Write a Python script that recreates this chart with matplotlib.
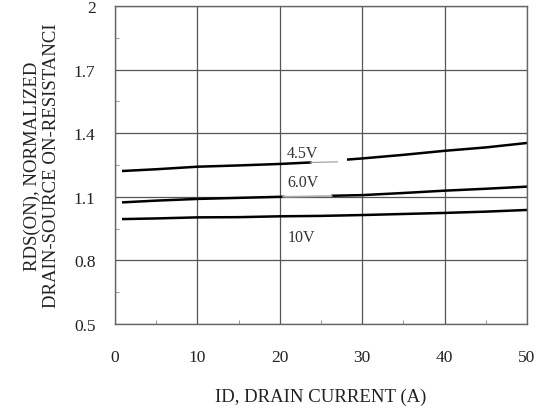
import numpy as np
import matplotlib.pyplot as plt

plt.rcParams['font.family'] = ['Liberation Serif', 'DejaVu Serif']

# Curves (ID in A, normalized RDS(ON))
x_left = [1, 5, 10, 15, 20, 23.7]
x_right = [28.3, 30, 35, 40, 45, 50]

y45_left = [1.222, 1.230, 1.242, 1.248, 1.255, 1.262]
y45_right = [1.276, 1.281, 1.298, 1.317, 1.333, 1.354]
x45_thin = [23.7, 27.0]
y45_thin = [1.262, 1.265]

x60_left = [1, 5, 10, 15, 20, 20.4]
y60_left = [1.074, 1.082, 1.090, 1.095, 1.100, 1.100]
x60_right = [26.4, 30, 35, 40, 45, 50]
y60_right = [1.105, 1.108, 1.118, 1.129, 1.138, 1.148]
x60_thin = [20.4, 26.3]
y60_thin = [1.100, 1.104]

x10 = [1, 5, 10, 15, 20, 25, 30, 35, 40, 45, 50]
y10 = [0.995, 0.998, 1.003, 1.004, 1.008, 1.010, 1.014, 1.019, 1.024, 1.030, 1.038]

labels = ['4.5V', '6.0V', '10V']
label_y = [1.307, 1.172, 0.91]
label_x = 20.9

xticks = [0, 10, 20, 30, 40, 50]
yticks = [0.5, 0.8, 1.1, 1.4, 1.7, 2]

fig = plt.figure(figsize=(5.4, 4.14), dpi=100)
ax = fig.add_axes([0.213, 0.215, 0.763, 0.768])

ax.plot(x_left, y45_left, color='black', lw=1.8)
ax.plot(x_right, y45_right, color='black', lw=1.8)
ax.plot(x45_thin, y45_thin, color='#999999', lw=0.8)
ax.plot(x60_left, y60_left, color='black', lw=1.8)
ax.plot(x60_right, y60_right, color='black', lw=1.8)
ax.plot(x60_thin, y60_thin, color='#aaaaaa', lw=1.2)
ax.plot(x10, y10, color='black', lw=1.8)

for lab, ly in zip(labels, label_y):
    ax.text(label_x, ly, lab, fontsize=11.5, va='center', ha='left', color='#333333')

ax.set_xlim(0, 50)
ax.set_ylim(0.5, 2)
ax.set_xticks(xticks)
ax.set_yticks(yticks)
ax.set_yticklabels(['0.5', '0.8', '1.1', '1.4', '1.7', '2'])
ax.set_xticks(np.arange(5, 50, 10), minor=True)
ax.set_yticks(np.arange(0.65, 2, 0.3), minor=True)
ax.tick_params(which='major', length=0, labelsize=12.5, colors='#222222')
ax.tick_params(axis='x', which='major', pad=18)
ax.tick_params(axis='y', which='major', pad=14)
ax.tick_params(which='minor', direction='in', length=3, color='#888888')
ax.grid(True, which='major', color='#555555', lw=0.9)
for s in ax.spines.values():
    s.set_color('#666666')
    s.set_linewidth(1.0)

ax.set_xlabel('ID, DRAIN CURRENT (A)', fontsize=13.5, labelpad=16, color='#222222')
ax.set_ylabel('RDS(ON), NORMALIZED\nDRAIN-SOURCE ON-RESISTANCI', fontsize=13.5,
              labelpad=10, color='#222222', linespacing=1.15)

fig.savefig('out.png', dpi=100)
